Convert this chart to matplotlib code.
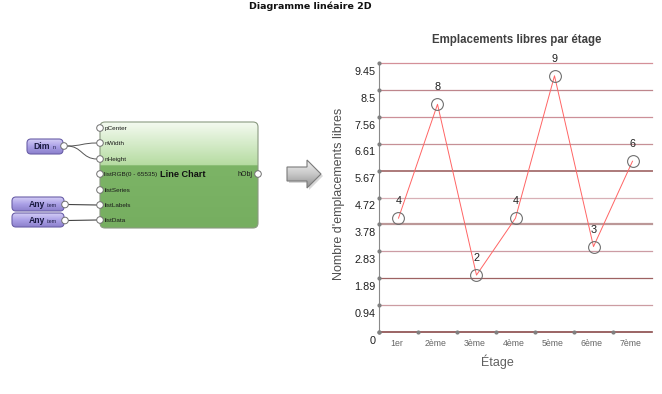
import numpy as np
import matplotlib
matplotlib.use("Agg")
import matplotlib.pyplot as plt
from matplotlib.patches import FancyBboxPatch, Circle, Polygon, PathPatch
from matplotlib.path import Path
from matplotlib.colors import LinearSegmentedColormap

plt.rcParams["font.family"] = ["Liberation Sans", "DejaVu Sans"]

# data
floors = ["1er", "2ème", "3ème", "4ème", "5ème", "6ème", "7ème"]
free_places = [4, 8, 2, 4, 9, 3, 6]
ytick_values = [0, 0.945, 1.89, 2.835, 3.78, 4.725, 5.67, 6.615, 7.56, 8.505, 9.45]
ytick_labels = ["0", "0.94", "1.89", "2.83", "3.78", "4.72", "5.67", "6.61", "7.56", "8.5", "9.45"]
ports_in = ["pCenter", "nWidth", "nHeight", "listRGB(0 - 65535)", "listSeries", "listLabels", "listData"]

# gridline styles, bottom to top
grid_colors = ["#8a4a4a", "#cc9ca2", "#9e6262", "#cc9ca4", "#bc9898", "#d8b0b6",
               "#ac7a7a", "#c69096", "#cc9098", "#be868c", "#d49098"]
grid_widths = [1.2, 0.9, 0.9, 0.9, 1.6, 0.9, 1.4, 0.9, 0.9, 0.9, 0.9]

fig = plt.figure(figsize=(6.62, 3.94), dpi=100)
bg = fig.add_axes([0, 0, 1, 1])
bg.axis("off")


def grad_patch(patch, colors, z=2):
    bg.add_patch(patch)
    bb = patch.get_path().transformed(patch.get_patch_transform()).get_extents()
    cmap = LinearSegmentedColormap.from_list("g", colors)
    grad = np.linspace(0, 1, 128)[:, None]
    im = bg.imshow(grad, cmap=cmap, extent=(bb.x0, bb.x1, bb.y1, bb.y0),
                   aspect="auto", zorder=z - 0.1, interpolation="bilinear")
    im.set_clip_path(patch)


def rbox(x0, y0, x1, y1, r, colors, edge):
    p = FancyBboxPatch((x0, y0), x1 - x0, y1 - y0,
                       boxstyle=f"round,pad=0,rounding_size={r}",
                       fc="none", ec=edge, lw=0.8, zorder=2)
    grad_patch(p, colors)


def port(x, y):
    bg.add_patch(Circle((x, y), 3.3, fc="white", ec="#707070", lw=0.7, zorder=4))


# main node
rbox(100, 122, 258, 228, 5,
     [(0, "#f4faf0"), (0.40, "#b6dca2"), (0.41, "#7cb466"), (1, "#76ae60")], "#8a9a80")
port_y = [128, 143, 159, 174, 190, 205, 220]
for name, y in zip(ports_in, port_y):
    port(100, y)
    bg.text(104.5, y, name, fontsize=4.6, va="center", ha="left", color="#1a1a1a", zorder=5)
bg.text(160.5, 174, "Line Chart", fontsize=6.6, fontweight="bold", va="center", color="#111111", zorder=5)
bg.text(252, 174, "hObj", fontsize=5, va="center", ha="right", color="#1a1a1a", zorder=5)
port(258, 174)

# input nodes
purple = [(0, "#d4cef6"), (0.5, "#aaa0e6"), (1, "#8c80cc")]
rbox(27, 139, 63, 154, 4, purple, "#6a5fa8")
bg.text(50, 146.5, "Dim", fontsize=6.2, fontweight="bold", ha="right", va="center", color="#1a1a40", zorder=5)
bg.text(52.5, 147, "n", fontsize=3.8, ha="left", va="center", color="#1a1a40", zorder=5)
port(64, 146)

for y0 in (197, 213):
    rbox(12, y0, 64, y0 + 14, 4, purple, "#6a5fa8")
    bg.text(45, y0 + 7.5, "Any", fontsize=6.2, fontweight="bold", ha="right", va="center", color="#1a1a40", zorder=5)
    bg.text(46.5, y0 + 8, "item", fontsize=3.8, ha="left", va="center", color="#1a1a40", zorder=5)
    port(65, y0 + 7.5)

# wires
for y_end in (143, 159):
    verts = [(67, 146), (82, 146), (82, y_end), (97, y_end)]
    bg.add_patch(PathPatch(Path(verts, [Path.MOVETO, Path.CURVE4, Path.CURVE4, Path.CURVE4]),
                           fc="none", ec="#555555", lw=0.7, zorder=3))
bg.plot([68, 97], [204.5, 205], color="#444444", lw=0.8, zorder=3)
bg.plot([68, 97], [220.5, 220], color="#444444", lw=0.8, zorder=3)

# arrow
shadow = Polygon([(289, 169), (309, 169), (309, 162), (323, 176), (309, 190), (309, 183), (289, 183)],
                 closed=True, fc="#d8d8d8", ec="none", zorder=1.5)
bg.add_patch(shadow)
arrow = Polygon([(287, 167), (307, 167), (307, 160), (321, 174), (307, 188), (307, 181), (287, 181)],
                closed=True, fc="none", ec="#7a7a7a", lw=0.8, zorder=2)
grad_patch(arrow, [(0, "#f2f2f2"), (0.5, "#c8c8c8"), (1, "#8e8e8e")])

# titles and labels
bg.text(310, 6, "Diagramme linéaire 2D", fontsize=6.8, fontweight="bold",
        family="DejaVu Sans", ha="center", va="center", color="#111111")
bg.text(517, 40, "Emplacements libres par étage", fontsize=8.3, fontweight="bold",
        ha="center", va="center", color="#404040")
bg.text(339, 194, "Nombre d'emplacements libres", fontsize=9, rotation=90,
        ha="center", va="center", color="#505050")
bg.text(497, 362, "Étage", fontsize=9, ha="center", va="center", color="#606060")

bg.set_xlim(0, 662)
bg.set_ylim(394, 0)

# chart
ax = fig.add_axes([379 / 662, 1 - 332 / 394, (652 - 379) / 662, (332 - 63) / 394])
ax.set_xlim(0, 7)
ax.set_ylim(0, 9.45)
ax.patch.set_visible(False)
for s in ["top", "right", "bottom"]:
    ax.spines[s].set_visible(False)
ax.spines["left"].set_color("#8a8a8a")
ax.spines["left"].set_linewidth(0.8)
ax.set_xticks([])
ax.set_yticks([])

for yv, c, w in zip(ytick_values, grid_colors, grid_widths):
    ax.axhline(yv, color=c, lw=w, zorder=1, clip_on=False)

for yv, lab in zip(ytick_values, ytick_labels):
    ax.annotate(lab, xy=(0, yv), xycoords=("axes fraction", "data"),
                xytext=(-2.5, -6.3), textcoords="offset points",
                ha="right", va="center", fontsize=7.8, color="#202020")

ax.plot(np.zeros(len(ytick_values)), ytick_values, "o", ms=2, color="#808080",
        clip_on=False, zorder=3)
ax.plot(np.arange(len(floors)), np.zeros(len(floors)), "o", ms=2, color="#808080",
        clip_on=False, zorder=3)

x = np.arange(len(floors)) + 0.5
for xi, lab in zip(x, floors):
    ax.annotate(lab, xy=(xi - 0.05, 0), xytext=(0, -8), textcoords="offset points",
                ha="center", va="center", fontsize=6.3, color="#666666")

ax.plot(x, free_places, color="#ff6464", lw=0.7, zorder=4)
ax.plot(x, free_places, "o", mfc="none", mec="#707070", ms=8.5, mew=0.8, zorder=5)
for xi, v in zip(x, free_places):
    ax.annotate(str(v), xy=(xi, v), xytext=(0, 12.3), textcoords="offset points",
                ha="center", va="center", fontsize=7.8, color="#202020")

plt.savefig("out.png", dpi=100)
